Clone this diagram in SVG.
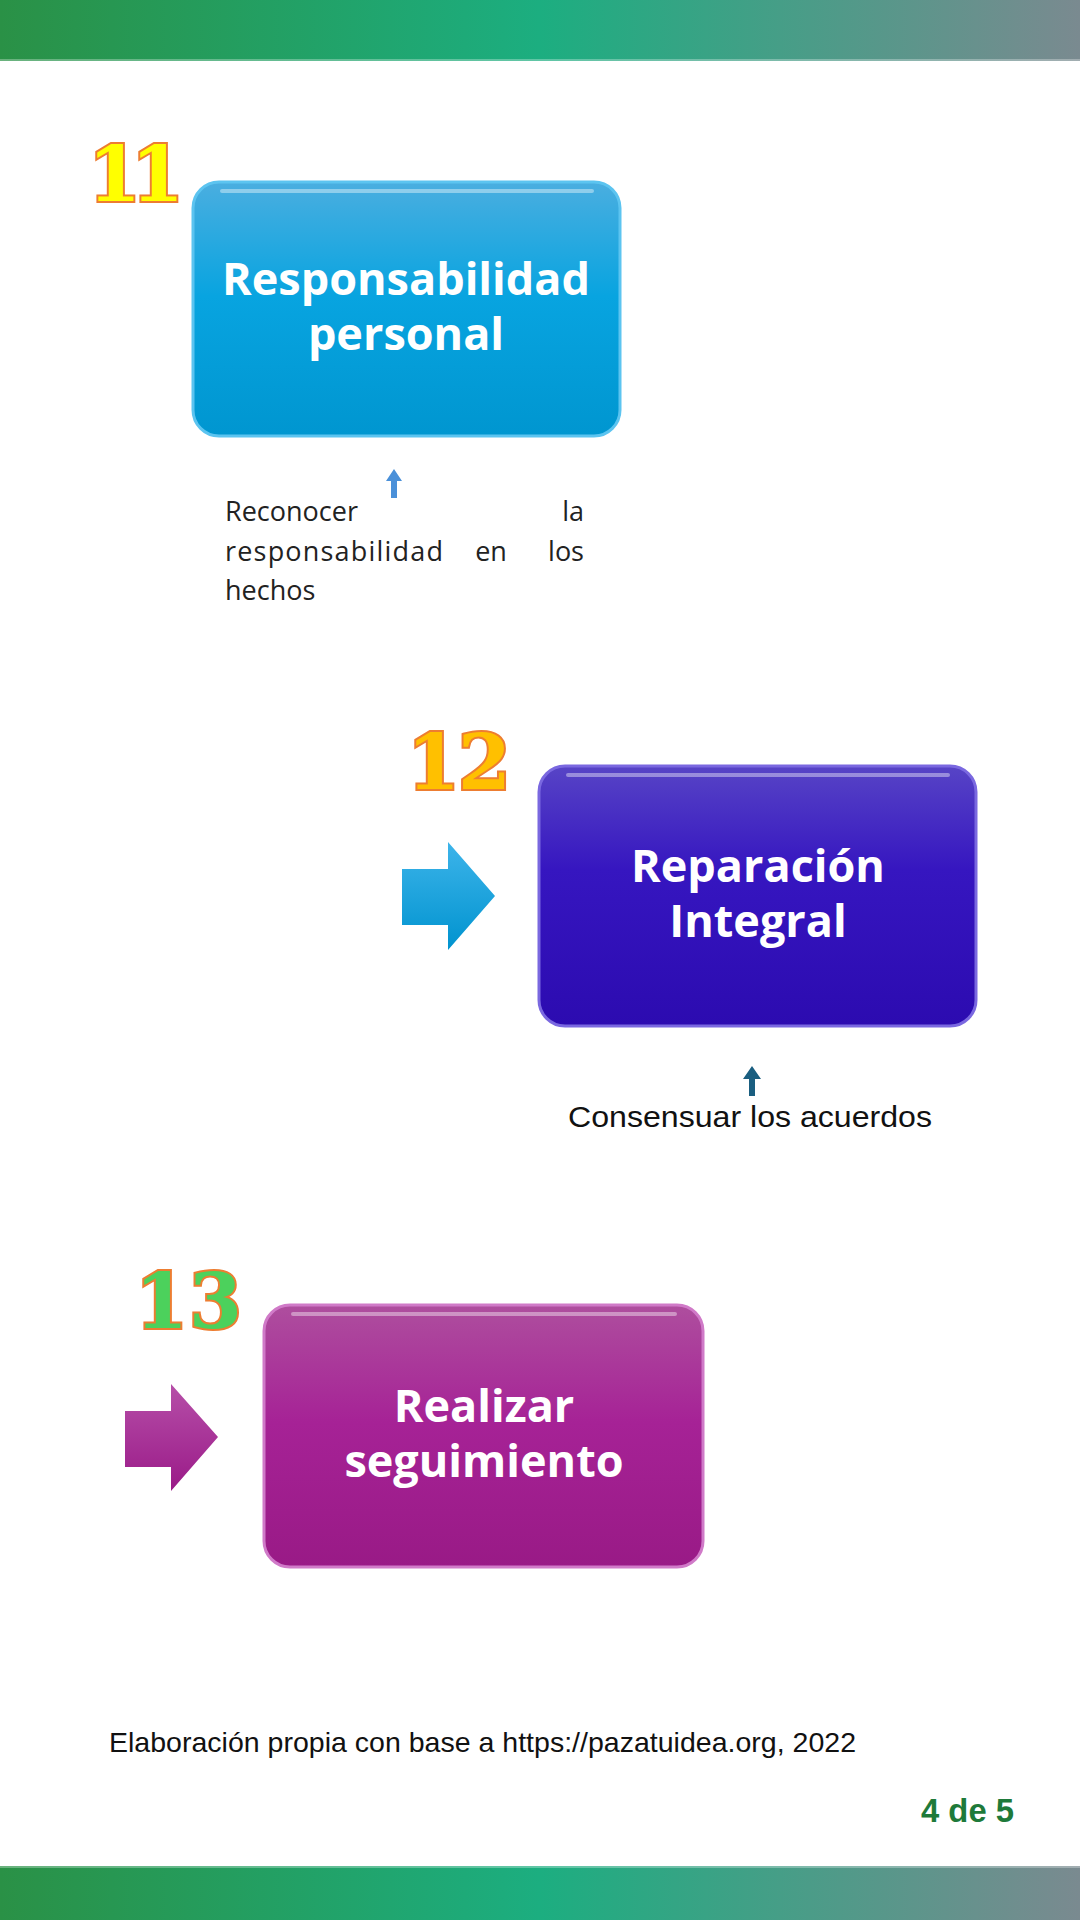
<svg xmlns="http://www.w3.org/2000/svg" width="1080" height="1920" viewBox="0 0 1080 1920">
<defs>
<linearGradient id="bar" x1="0" y1="0" x2="1" y2="0">
<stop offset="0" stop-color="#2A9146"/>
<stop offset="0.5" stop-color="#1CAE80"/>
<stop offset="1" stop-color="#7A8A90"/>
</linearGradient>
<linearGradient id="g1" x1="0" y1="0" x2="0" y2="1">
<stop offset="0" stop-color="#4AAEE0"/>
<stop offset="0.45" stop-color="#08A4E0"/>
<stop offset="1" stop-color="#0096D0"/>
</linearGradient>
<linearGradient id="g2" x1="0" y1="0" x2="0" y2="1">
<stop offset="0" stop-color="#5744C6"/>
<stop offset="0.4" stop-color="#3616C0"/>
<stop offset="1" stop-color="#2C0BB0"/>
</linearGradient>
<linearGradient id="g3" x1="0" y1="0" x2="0" y2="1">
<stop offset="0" stop-color="#AE4E9E"/>
<stop offset="0.45" stop-color="#A62296"/>
<stop offset="1" stop-color="#991A86"/>
</linearGradient>
<linearGradient id="a1" x1="0" y1="0" x2="0" y2="1">
<stop offset="0" stop-color="#3DB4EA"/>
<stop offset="1" stop-color="#0093CF"/>
</linearGradient>
<linearGradient id="a3" x1="0" y1="0" x2="0" y2="1">
<stop offset="0" stop-color="#B64FA8"/>
<stop offset="1" stop-color="#9A1A88"/>
</linearGradient>
</defs>
<style>
.box{stroke-width:3}
.hl{fill:none;stroke:#ffffff;stroke-opacity:0.4;stroke-width:4;stroke-linecap:round}
.bt{font-family:"Open Sans","Liberation Sans",sans-serif;font-weight:700;font-size:45px;fill:#ffffff;text-anchor:middle}
.num{font-family:"DejaVu Serif","Liberation Serif",serif;font-weight:700;font-size:76px;stroke:#ED7D31;stroke-width:4;paint-order:stroke}
.note{font-family:"Open Sans","Noto Sans",sans-serif;font-size:27px;fill:#222222}
.cal{font-family:"Liberation Sans","Noto Sans",sans-serif;fill:#111111}
</style>
<rect x="0" y="0" width="1080" height="61" fill="url(#bar)"/>
<rect x="0" y="59" width="1080" height="2" fill="#ffffff" fill-opacity="0.3"/>
<rect x="0" y="1866" width="1080" height="54" fill="url(#bar)"/>
<rect x="0" y="1866" width="1080" height="2" fill="#ffffff" fill-opacity="0.3"/>

<g id="node11">
<text class="num" x="88" y="201" fill="#FFFF00" textLength="96" lengthAdjust="spacing">11</text>
<rect class="box" x="193" y="182" width="427" height="254" rx="26" fill="url(#g1)" stroke="#5CC4F0"/>
<path class="hl" d="M222 191 H592"/>
<text class="bt" x="406" y="295">Responsabilidad</text>
<text class="bt" x="406" y="350">personal</text>
</g>

<g id="note11">
<text class="note" x="225" y="521">Reconocer</text>
<text class="note" x="584" y="521" text-anchor="end">la</text>
<text class="note" x="225" y="561" textLength="218" lengthAdjust="spacing">responsabilidad</text>
<text class="note" x="491" y="561" text-anchor="middle">en</text>
<text class="note" x="584" y="561" text-anchor="end">los</text>
<text class="note" x="225" y="600">hechos</text>
</g>

<g id="node12">
<text class="num" x="407" y="789" fill="#FFC000" textLength="104" lengthAdjust="spacing">12</text>
<rect class="box" x="539" y="766" width="437" height="260" rx="26" fill="url(#g2)" stroke="#7A68E0"/>
<path class="hl" d="M568 775 H948"/>
<text class="bt" x="758" y="882">Reparación</text>
<text class="bt" x="758" y="937">Integral</text>
</g>

<g id="note12">
<text class="cal" x="568" y="1127" font-size="30" textLength="364" lengthAdjust="spacingAndGlyphs">Consensuar los acuerdos</text>
</g>

<g id="node13">
<text class="num" x="135" y="1328" fill="#4CD15C" textLength="107" lengthAdjust="spacing">13</text>
<rect class="box" x="264" y="1305" width="439" height="262" rx="26" fill="url(#g3)" stroke="#D07AC8"/>
<path class="hl" d="M293 1314 H675"/>
<text class="bt" x="484" y="1422">Realizar</text>
<text class="bt" x="484" y="1477">seguimiento</text>
</g>

<g id="connectors">
<path d="M394 469 L402 481 H397 V498 H391 V481 H386 Z" fill="#4A90D9"/>
<path d="M402 869 H448 V842 L495 896 L448 950 V925 H402 Z" fill="url(#a1)"/>
<path d="M752 1066 L761 1079 H755 V1096 H749 V1079 H743 Z" fill="#1A5E80"/>
<path d="M125 1411 H171 V1384 L218 1437 L171 1491 V1467 H125 Z" fill="url(#a3)"/>
</g>

<g id="footer">
<text class="cal" x="109" y="1752" font-size="28" textLength="747" lengthAdjust="spacingAndGlyphs">Elaboración propia con base a https://pazatuidea.org, 2022</text>
<text x="1014" y="1822" font-family="Liberation Sans, sans-serif" font-weight="700" font-size="34" fill="#1E7A3A" text-anchor="end" textLength="93" lengthAdjust="spacingAndGlyphs">4 de 5</text>
</g>
</svg>
